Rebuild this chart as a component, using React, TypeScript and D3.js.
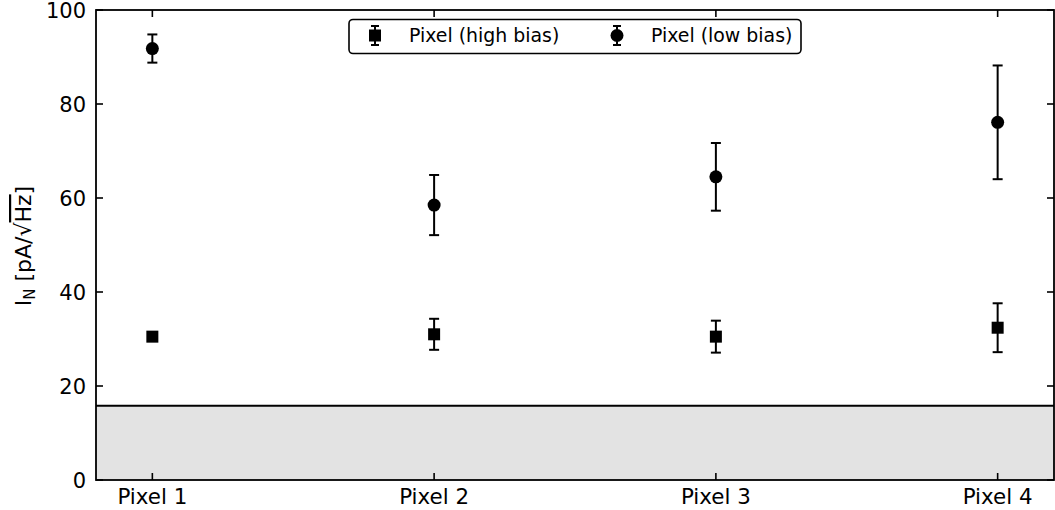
import React from "react";
import * as d3 from "d3";

const categories = ["Pixel 1", "Pixel 2", "Pixel 3", "Pixel 4"];
const highBias = [30.5, 31.0, 30.5, 32.4];
const highBiasErr = [0.4, 3.3, 3.4, 5.2];
const lowBias = [91.8, 58.5, 64.5, 76.1];
const lowBiasErr = [3.0, 6.4, 7.2, 12.1];
const yTicks = [0, 20, 40, 60, 80, 100];
const bandLevel = 15.8;

const W = 1055, H = 510;
const m = { left: 96, right: 1054, top: 10, bottom: 480 };
const FONT = "DejaVu Sans, sans-serif";

export default function App() {
  const x = d3.scaleLinear().domain([0.8, 4.2]).range([m.left, m.right]);
  const y = d3.scaleLinear().domain([0, 100]).range([m.bottom, m.top]);
  const xs = categories.map((_, i) => i + 1);
  const cap = 5;
  const tick = 7;

  const errBar = (xi: number, v: number, e: number, key: string) => (
    <g key={key} stroke="#000" strokeWidth={2}>
      <line x1={x(xi)} x2={x(xi)} y1={y(v - e)} y2={y(v + e)} />
      <line x1={x(xi) - cap} x2={x(xi) + cap} y1={y(v - e)} y2={y(v - e)} />
      <line x1={x(xi) - cap} x2={x(xi) + cap} y1={y(v + e)} y2={y(v + e)} />
    </g>
  );

  return (
    <svg width={W} height={H} style={{ position: "absolute", left: 0, top: 0 }} fontFamily={FONT}>
      <rect x={0} y={0} width={W} height={H} fill="#fff" />
      {/* shaded band */}
      <rect x={m.left} y={y(bandLevel)} width={m.right - m.left} height={y(0) - y(bandLevel)} fill="#e3e3e3" />
      <line x1={m.left} x2={m.right} y1={y(bandLevel)} y2={y(bandLevel)} stroke="#000" strokeWidth={1.8} />
      {/* ticks */}
      {yTicks.map((t) => (
        <g key={"y" + t}>
          <line x1={m.left} x2={m.left + tick} y1={y(t)} y2={y(t)} stroke="#000" strokeWidth={1.6} />
          <line x1={m.right} x2={m.right - tick} y1={y(t)} y2={y(t)} stroke="#000" strokeWidth={1.6} />
          <text x={m.left - 10} y={y(t)} dy="0.36em" textAnchor="end" fontSize={21} fill="#000">{t}</text>
        </g>
      ))}
      {xs.map((xi, i) => (
        <g key={"x" + xi}>
          <line x1={x(xi)} x2={x(xi)} y1={m.bottom} y2={m.bottom - tick} stroke="#000" strokeWidth={1.6} />
          <line x1={x(xi)} x2={x(xi)} y1={m.top} y2={m.top + tick} stroke="#000" strokeWidth={1.6} />
          <text x={x(xi)} y={m.bottom + 24} textAnchor="middle" fontSize={21.4} fill="#000">{categories[i]}</text>
        </g>
      ))}
      {/* data */}
      {xs.map((xi, i) => errBar(xi, lowBias[i], lowBiasErr[i], "le" + i))}
      {xs.map((xi, i) => errBar(xi, highBias[i], highBiasErr[i], "he" + i))}
      {xs.map((xi, i) => (
        <circle key={"lc" + i} cx={x(xi)} cy={y(lowBias[i])} r={6.5} fill="#000" />
      ))}
      {xs.map((xi, i) => (
        <rect key={"hs" + i} x={x(xi) - 6} y={y(highBias[i]) - 6} width={12} height={12} fill="#000" />
      ))}
      {/* frame */}
      <rect x={m.left} y={m.top} width={m.right - m.left} height={m.bottom - m.top} fill="none" stroke="#000" strokeWidth={1.8} />
      {/* legend */}
      <g>
        <rect x={349} y={19.5} width={452} height={34} rx={4} fill="#fff" stroke="#000" strokeWidth={1.6} />
        <g stroke="#000" strokeWidth={2}>
          <line x1={375} x2={375} y1={26} y2={45} />
          <line x1={371} x2={379} y1={26} y2={26} />
          <line x1={371} x2={379} y1={45} y2={45} />
          <line x1={617} x2={617} y1={26} y2={45} />
          <line x1={613} x2={621} y1={26} y2={26} />
          <line x1={613} x2={621} y1={45} y2={45} />
        </g>
        <rect x={369} y={29.5} width={12} height={12} fill="#000" />
        <circle cx={617} cy={35.5} r={6.5} fill="#000" />
        <text x={409} y={35.5} dy="0.36em" fontSize={18.9} fill="#000">Pixel (high bias)</text>
        <text x={651} y={35.5} dy="0.36em" fontSize={18.9} fill="#000">Pixel (low bias)</text>
      </g>
      {/* y label */}
      <g transform="translate(31,246) rotate(-90)">
        <text textAnchor="middle" fontSize={22} fill="#000">
          <tspan>I</tspan>
          <tspan fontSize={15} dy={4}>N</tspan>
          <tspan dy={-4}> [pA/√</tspan>
          <tspan textDecoration="overline">Hz</tspan>
          <tspan>]</tspan>
        </text>
      </g>
    </svg>
  );
}
